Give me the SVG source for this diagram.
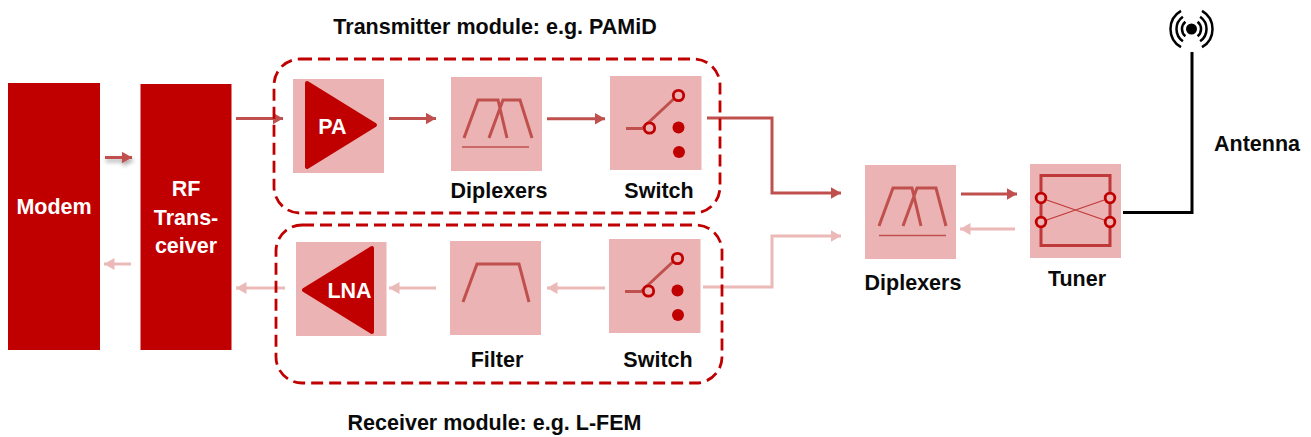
<svg xmlns="http://www.w3.org/2000/svg" width="1311" height="437" viewBox="0 0 1311 437">
<defs>
<marker id="hd" markerUnits="userSpaceOnUse" markerWidth="11" markerHeight="12" refX="10.500" refY="6" orient="auto"><path d="M0 0L10.500 6L0 12Z" fill="#c0504d"/></marker>
<marker id="hl" markerUnits="userSpaceOnUse" markerWidth="11" markerHeight="12" refX="10.500" refY="6" orient="auto"><path d="M0 0L10.500 6L0 12Z" fill="#ebb9b8"/></marker>
<filter id="sh" filterUnits="userSpaceOnUse" x="90" y="140" width="60" height="40"><feDropShadow dx="1" dy="3" stdDeviation="2" flood-color="#000" flood-opacity="0.35"/></filter>
<g id="sw">
<rect width="91.500" height="94" class="sq"/>
<path d="M16 52.500H32L68 19" class="ic" fill="none"/>
<circle cx="39.500" cy="52" r="5.200" class="ring"/>
<circle cx="68.500" cy="19.500" r="5.200" class="ring"/>
<circle cx="68.500" cy="51.500" r="6" fill="#c00000"/>
<circle cx="69" cy="76" r="6" fill="#c00000"/>
</g>
</defs>
<style>
.sq{fill:#ebb3b3}
.blk{fill:#c00000}
.ic{stroke:#c0504d;stroke-width:3;fill:none}
.thin{stroke:#c0504d;stroke-width:1.300;fill:none}
.ring{fill:#ebb3b3;stroke:#c00000;stroke-width:2.800}
.tri{fill:#c00000;stroke:#c00000;stroke-width:4;stroke-linejoin:round}
.mod{fill:none;stroke:#c00000;stroke-width:2.800;stroke-dasharray:12 6}
.d{fill:none;stroke:#c0504d;stroke-width:3}
.l{fill:none;stroke:#ebb9b8;stroke-width:3}
text{font-family:"Liberation Sans",Arial,sans-serif;font-weight:700;font-size:21.500px;fill:#0a0a0a;text-anchor:middle}
text.w{fill:#fff}
</style>
<g id="connectors">
<path class="d" marker-end="url(#hd)" d="M105 157.500H132" filter="url(#sh)"/>
<path class="l" marker-end="url(#hl)" d="M131 264H104"/>
<path class="d" marker-end="url(#hd)" d="M236 118.500H283"/>
<path class="l" marker-end="url(#hl)" d="M285 288H236"/>
<path class="d" marker-end="url(#hd)" d="M389 118.500H436"/>
<path class="d" marker-end="url(#hd)" d="M547 118.800H605"/>
<path class="l" marker-end="url(#hl)" d="M436 288H389"/>
<path class="l" marker-end="url(#hl)" d="M605 288H547"/>
<path class="d" marker-end="url(#hd)" d="M707 118H772V193H841"/>
<path class="l" marker-end="url(#hl)" d="M703 287H772V236H841"/>
<path class="d" marker-end="url(#hd)" d="M961 194H1017"/>
<path class="l" marker-end="url(#hl)" d="M1015 229H960"/>
<path fill="none" stroke="#000" stroke-width="3" d="M1123 212.500H1192V52"/>
</g>
<g id="modem"><rect class="blk" x="8" y="83" width="92" height="267"/><text class="w" x="54" y="214">Modem</text></g>
<g id="rf"><rect class="blk" x="140.500" y="84" width="91" height="266"/><text class="w" x="186" y="196">RF</text><text class="w" x="186" y="225">Trans-</text><text class="w" x="186" y="253">ceiver</text></g>
<g id="tx-module"><rect class="mod" x="274" y="59" width="446" height="154" rx="26"/></g>
<g id="rx-module"><rect class="mod" x="276" y="225" width="446" height="158" rx="26"/></g>
<g id="pa"><rect class="sq" x="293" y="79" width="91" height="94"/><path class="tri" d="M307 83L375 125L307 167Z"/><text class="w" x="332.500" y="134">PA</text></g>
<g id="diplexer-tx"><rect class="sq" x="451" y="77" width="91" height="94"/><path class="ic" d="M464 138L478 100H498L507 138M489 138L503 100H520L532 138"/><path class="thin" d="M462 147H529"/></g>
<g id="switch-tx"><use href="#sw" x="610" y="76"/></g>
<g id="lna"><rect class="sq" x="296" y="242" width="90.500" height="94"/><path class="tri" d="M304 290L372 248V332Z"/><text class="w" x="349.500" y="298">LNA</text></g>
<g id="filter"><rect class="sq" x="450" y="241" width="91" height="94"/><path class="ic" d="M463 302L477 264H519L529 302"/></g>
<g id="switch-rx"><use href="#sw" x="609" y="239"/></g>
<g id="diplexer"><rect class="sq" x="865" y="165" width="91" height="94"/><path class="ic" d="M879 226L893 188H912L921 226M903 226L917 188H936L946 226"/><path class="thin" d="M879 235.500H946"/></g>
<g id="tuner"><rect class="sq" x="1030" y="164" width="91" height="94"/><path d="M1041 198V175.500H1110V198M1041 222V245.500H1110V222M1041 203V217M1110 203V217" fill="none" stroke="#c0393a" stroke-width="3"/><path d="M1041 198L1110 222M1041 222L1110 198" stroke="#c0393a" stroke-width="1.300" fill="none"/><circle class="ring" cx="1041" cy="198" r="4.800"/><circle class="ring" cx="1110" cy="198" r="4.800"/><circle class="ring" cx="1041" cy="222" r="4.800"/><circle class="ring" cx="1110" cy="222" r="4.800"/></g>
<g id="antenna">
<circle cx="1191.500" cy="29" r="5.500" fill="#000"/>
<path d="M1185.400 21.700A9.500 9.500 0 0 0 1185.400 36.300M1197.600 21.700A9.500 9.500 0 0 1 1197.600 36.300M1182.900 16.700A15 15 0 0 0 1182.900 41.300M1200.100 16.700A15 15 0 0 1 1200.100 41.300M1181 10.800A21 21 0 0 0 1181 47.200M1202 10.800A21 21 0 0 1 1202 47.200" fill="none" stroke="#000" stroke-width="2.500"/>
</g>
<g id="labels">
<text x="495" y="34">Transmitter module: e.g. PAMiD</text>
<text x="499" y="198">Diplexers</text>
<text x="659" y="198">Switch</text>
<text x="497" y="367">Filter</text>
<text x="658" y="367">Switch</text>
<text x="494.500" y="430">Receiver module: e.g. L-FEM</text>
<text x="913" y="290">Diplexers</text>
<text x="1077" y="286">Tuner</text>
<text x="1257" y="151">Antenna</text>
</g>
</svg>
